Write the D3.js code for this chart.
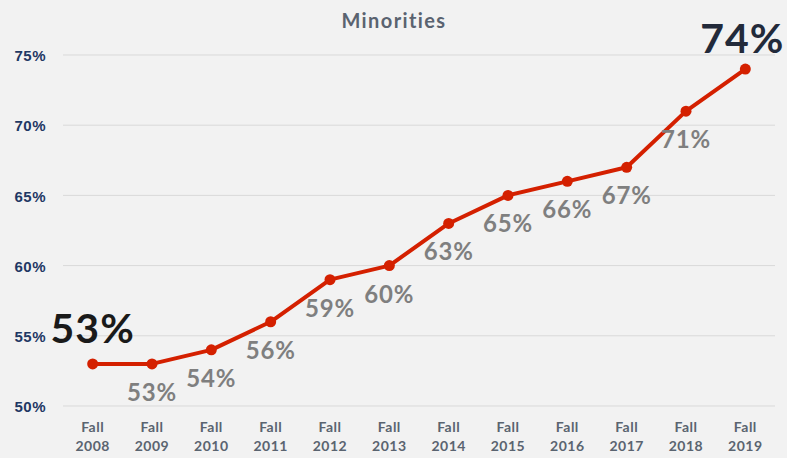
<!DOCTYPE html>
<html>
<head>
<meta charset="utf-8">
<script src="https://cdn.jsdelivr.net/npm/d3@7"></script>
<style>
  body { margin: 0; background: #f2f2f2; }
  svg { display: block; font-family: "Century Gothic", Lato, "DejaVu Sans", sans-serif; }
</style>
</head>
<body>
<svg id="chart" width="787" height="458"></svg>
<script>
// chart data
var years = ["2008", "2009", "2010", "2011", "2012", "2013", "2014", "2015", "2016", "2017", "2018", "2019"];
var minorities = [53, 53, 54, 56, 59, 60, 63, 65, 66, 67, 71, 74];
var yTicks = [50, 55, 60, 65, 70, 75];

var svg = d3.select("#chart");
var W = 787, H = 458;

svg.append("rect").attr("width", W).attr("height", H).attr("fill", "#f2f2f2");

// scales
var x = d3.scaleBand().domain(years).range([63, 775]);
var y = d3.scaleLinear().domain([50, 75]).range([406, 55]);

// title
svg.append("text")
  .attr("x", 394).attr("y", 28)
  .attr("text-anchor", "middle")
  .style("font-size", "20px").style("font-weight", "bold").style("fill", "#5a6370")
  .style("letter-spacing", "1.4px")
  .text("Minorities");

// gridlines
svg.append("g").selectAll("line").data(yTicks).enter().append("line")
  .attr("x1", 63).attr("x2", 775)
  .attr("y1", function(d){ return y(d); })
  .attr("y2", function(d){ return y(d); })
  .style("stroke", "#d9d9d9").style("stroke-width", 1);

// y axis labels
var yAxis = svg.append("g")
  .attr("transform", "translate(46,0)")
  .call(d3.axisLeft(y).tickValues(yTicks).tickSize(0).tickPadding(0)
    .tickFormat(function(d){ return d + "%"; }));
yAxis.select(".domain").remove();
yAxis.selectAll("text")
  .style("font-family", "inherit").style("font-size", "15px").style("font-weight", "bold")
  .style("letter-spacing", "0.5px")
  .style("fill", "#1f3864").attr("dy", "0.38em");

// x axis labels (two lines)
var xAxis = svg.append("g");
var xl = xAxis.selectAll("text").data(years).enter().append("text")
  .attr("text-anchor", "middle")
  .attr("x", function(d){ return x(d) + x.bandwidth() / 2; })
  .style("font-size", "14px").style("font-weight", "bold").style("fill", "#5a6470")
  .style("letter-spacing", "0.5px");
xl.append("tspan").attr("x", function(d){ return x(d) + x.bandwidth() / 2; }).attr("y", 432).text("Fall");
xl.append("tspan").attr("x", function(d){ return x(d) + x.bandwidth() / 2; }).attr("y", 451).text(function(d){ return d; });

// the line
var pts = years.map(function(yr, i){ return { year: yr, v: minorities[i], i: i }; });
var cx = function(d){ return x(d.year) + x.bandwidth() / 2; };

svg.append("path")
  .datum(pts)
  .attr("d", d3.line().x(cx).y(function(d){ return y(d.v); }))
  .style("fill", "none").style("stroke", "#d42000").style("stroke-width", 4)
  .style("stroke-linejoin", "round");

svg.append("g").selectAll("circle").data(pts).enter().append("circle")
  .attr("cx", cx).attr("cy", function(d){ return y(d.v); })
  .attr("r", 5.5).style("fill", "#d42000");

// data labels
var last = pts.length - 1;
svg.append("g").selectAll("text").data(pts).enter().append("text")
  .attr("text-anchor", "middle")
  .attr("x", function(d){ return d.i == last ? cx(d) - 3 : cx(d); })
  .attr("y", function(d){
    if (d.i == 0) return y(d.v) - 21;
    if (d.i == last) return y(d.v) - 16;
    return y(d.v) + 37;
  })
  .style("font-weight", "bold")
  .style("font-size", function(d){ return (d.i == 0 || d.i == last) ? "41px" : "24px"; })
  .style("letter-spacing", function(d){ return (d.i == 0 || d.i == last) ? "1px" : "0.8px"; })
  .style("fill", function(d){
    if (d.i == 0) return "#1a1a1a";
    if (d.i == last) return "#222a3a";
    return "#7f7f7f";
  })
  .text(function(d){ return d.v + "%"; });
</script>
</body>
</html>
